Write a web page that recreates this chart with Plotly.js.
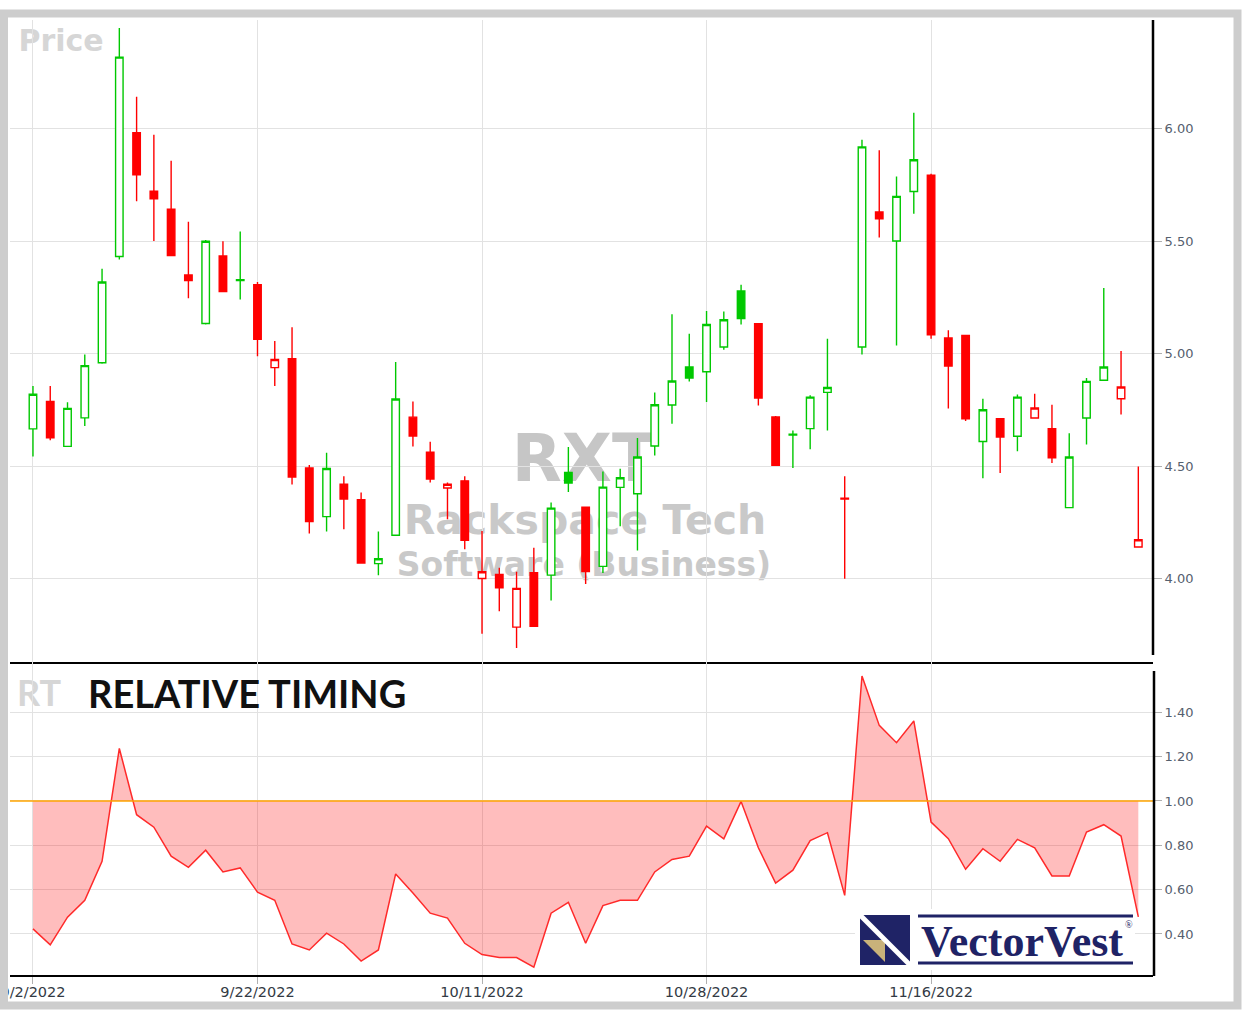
<!DOCTYPE html>
<html>
<head>
<meta charset="utf-8">
<script src="https://cdn.plot.ly/plotly-3.0.1.min.js"></script>
<style>html,body{margin:0;padding:0;background:#fff;}#chart{width:1245px;height:1017px;}</style>
</head>
<body>
<div id="chart"></div>
<script>
// ---- data ----
const dates = ["9/2/2022","9/6/2022","9/7/2022","9/8/2022","9/9/2022","9/12/2022","9/13/2022","9/14/2022","9/15/2022","9/16/2022",
"9/19/2022","9/20/2022","9/21/2022","9/22/2022","9/23/2022","9/26/2022","9/27/2022","9/28/2022","9/29/2022","9/30/2022",
"10/3/2022","10/4/2022","10/5/2022","10/6/2022","10/7/2022","10/10/2022","10/11/2022","10/12/2022","10/13/2022","10/14/2022",
"10/17/2022","10/18/2022","10/19/2022","10/20/2022","10/21/2022","10/24/2022","10/25/2022","10/26/2022","10/27/2022","10/28/2022",
"10/31/2022","11/1/2022","11/2/2022","11/3/2022","11/4/2022","11/7/2022","11/8/2022","11/9/2022","11/10/2022","11/11/2022",
"11/14/2022","11/15/2022","11/16/2022","11/17/2022","11/18/2022","11/21/2022","11/22/2022","11/23/2022","11/25/2022","11/28/2022",
"11/29/2022","11/30/2022","12/1/2022","12/2/2022","12/5/2022"];
const openP = [4.666,4.788,4.588,4.715,4.960,5.432,5.982,5.722,5.642,5.350,
5.134,5.434,5.325,5.307,4.938,4.978,4.492,4.276,4.420,4.351,
4.067,4.193,4.718,4.562,4.403,4.435,4.001,4.019,3.785,4.027,
4.016,4.472,4.318,4.055,4.406,4.378,4.590,4.772,4.941,4.920,
5.030,5.279,5.133,4.719,4.638,4.667,4.828,4.358,5.030,5.630,
5.501,5.721,5.793,5.070,5.081,4.610,4.711,4.633,4.714,4.667,
4.316,4.714,4.882,4.800,4.141];
const highP = [4.857,4.857,4.784,4.996,5.378,6.448,6.142,5.973,5.858,5.586,
5.505,5.500,5.543,5.319,5.056,5.118,4.505,4.560,4.455,4.383,
4.210,4.963,4.788,4.609,4.428,4.455,4.212,4.049,4.031,4.138,
4.339,4.585,4.320,4.477,4.489,4.625,4.828,5.175,5.089,5.190,
5.188,5.307,5.136,4.723,4.659,4.815,5.067,4.455,5.951,5.904,
5.788,6.071,5.800,5.104,5.083,4.800,4.713,4.819,4.822,4.773,
4.647,4.892,5.292,5.012,4.499];
const lowP = [4.543,4.615,4.585,4.679,4.955,5.419,5.677,5.501,5.434,5.247,
5.130,5.274,5.241,4.989,4.857,4.419,4.201,4.210,4.220,4.067,
4.016,4.190,4.588,4.428,4.264,4.131,3.756,3.856,3.692,3.787,
3.903,4.385,3.977,4.025,4.233,4.126,4.548,4.689,4.877,4.785,
5.018,5.130,4.770,4.502,4.492,4.575,4.659,4.000,4.997,5.516,
5.037,5.622,5.067,4.756,4.701,4.447,4.470,4.567,4.712,4.514,
4.314,4.596,4.880,4.730,4.139];
const closeP = [4.820,4.626,4.757,4.947,5.319,6.318,5.795,5.688,5.436,5.325,
5.500,5.276,5.329,5.064,4.974,4.452,4.254,4.490,4.354,4.070,
4.089,4.799,4.634,4.443,4.420,4.171,4.031,3.960,3.957,3.789,
4.314,4.425,4.032,4.407,4.449,4.541,4.773,4.879,4.892,5.130,
5.151,5.156,4.803,4.504,4.642,4.807,4.850,4.354,5.919,5.600,
5.699,5.862,5.084,4.945,4.711,4.751,4.630,4.807,4.759,4.538,
4.541,4.877,4.941,4.852,4.173];
const relTiming = [0.423,0.351,0.476,0.552,0.728,1.237,0.938,0.882,0.751,0.701,
0.778,0.680,0.698,0.589,0.552,0.355,0.328,0.404,0.355,0.278,
0.328,0.671,0.585,0.494,0.472,0.358,0.307,0.294,0.294,0.250,
0.494,0.543,0.358,0.528,0.552,0.552,0.680,0.736,0.751,0.887,
0.829,0.998,0.789,0.630,0.688,0.821,0.857,0.574,1.564,1.341,
1.263,1.361,0.905,0.830,0.692,0.785,0.728,0.827,0.789,0.662,
0.662,0.860,0.893,0.842,0.477];
const rtBaseline = 1.0;
const tickIdx = [0,13,26,39,52];
const priceTicks = [4.00,4.50,5.00,5.50,6.00];
const rtTicks = [0.40,0.60,0.80,1.00,1.20,1.40];

// ---- helpers ----
const W = 1245, H = 1017;
const px = x => x / W;
const py = y => 1 - y / H;
const GREEN = '#00c800', RED = '#ff0000', GRID = '#e2e2e2', NAVY = '#1f2366';

const idx = dates.map((d, i) => i);
const isUp = i => i === 0 || closeP[i] >= closeP[i - 1];
const upIdx = idx.filter(isUp);
const dnIdx = idx.filter(i => !isUp(i));
const pick = (arr, ids) => ids.map(i => arr[i]);

function candleTrace(ids, color) {
  return {
    type: 'candlestick', xaxis: 'x', yaxis: 'y',
    x: ids, open: pick(openP, ids), high: pick(highP, ids), low: pick(lowP, ids), close: pick(closeP, ids),
    increasing: {line: {color: color, width: 1.4}, fillcolor: '#ffffff'},
    decreasing: {line: {color: color, width: 1.4}, fillcolor: color},
    whiskerwidth: 0, hoverinfo: 'skip', showlegend: false
  };
}

const traces = [
  candleTrace(upIdx, GREEN),
  candleTrace(dnIdx, RED),
  {type: 'scatter', mode: 'lines', xaxis: 'x2', yaxis: 'y2', x: idx, y: idx.map(() => rtBaseline),
   line: {width: 0, color: 'rgba(0,0,0,0)'}, hoverinfo: 'skip', showlegend: false},
  {type: 'scatter', mode: 'lines', xaxis: 'x2', yaxis: 'y2', x: idx, y: relTiming,
   fill: 'tonexty', fillcolor: 'rgba(255,0,0,0.26)', line: {color: '#ff2a2a', width: 1.5},
   hoverinfo: 'skip', showlegend: false}
];

const XR = [-1.33, 64.85];
const X0 = px(10), X1 = px(1153);
const tickFontY = {family: 'DejaVu Sans, Verdana, sans-serif', size: 13, color: '#55606e'};
const tickFontX = {family: 'DejaVu Sans, Verdana, sans-serif', size: 14.5, color: '#333a44'};

function wm(text, cx, cy, w, h, size, color, family) {
  return {type: 'rect', xref: 'paper', yref: 'paper', layer: 'below',
    x0: px(cx - w / 2), x1: px(cx + w / 2), y0: py(cy + h / 2), y1: py(cy - h / 2),
    line: {width: 0}, fillcolor: 'rgba(0,0,0,0)',
    label: {text: text, textposition: 'middle center',
      font: {family: family || 'DejaVu Sans, Verdana, sans-serif', size: size, color: color, weight: 'bold'}}};
}
const P = (x, y) => px(x).toFixed(5) + ',' + py(y).toFixed(5);

const shapes = [
  // watermarks (below traces)
  wm('Price', 61, 38, 100, 36, 30, '#d6d6d6'),
  wm('RXT', 584, 453, 200, 70, 65, '#c6c6c6'),
  wm('Rackspace Tech', 585, 517, 420, 50, 41, '#c9c9c9'),
  wm('Software (Business)', 584, 562, 420, 44, 33, '#c9c9c9'),
  wm('RT', 39, 692, 60, 40, 36, '#d6d6d6', 'Lato, Open Sans, sans-serif'),
  // orange RT = 1.00 line
  {type: 'line', xref: 'paper', yref: 'y2', x0: X0, x1: X1, y0: rtBaseline, y1: rtBaseline,
   line: {color: '#ffa500', width: 1.5}, layer: 'above'},
  // right axis lines
  {type: 'line', xref: 'paper', yref: 'paper', x0: px(1153), x1: px(1153), y0: py(20), y1: py(655),
   line: {color: '#000', width: 2.5}, layer: 'above'},
  {type: 'line', xref: 'paper', yref: 'paper', x0: px(1154), x1: px(1154), y0: py(671), y1: py(976),
   line: {color: '#000', width: 2.5}, layer: 'above'},
  // VectorVest logo
  {type: 'rect', xref: 'paper', yref: 'paper', x0: px(855), x1: px(1135), y0: py(970), y1: py(909),
   fillcolor: '#ffffff', line: {width: 0}, layer: 'above'},
  {type: 'rect', xref: 'paper', yref: 'paper', x0: px(860), x1: px(910), y0: py(965), y1: py(915),
   fillcolor: NAVY, line: {width: 0}, layer: 'above'},
  {type: 'path', xref: 'paper', yref: 'paper', layer: 'above',
   path: 'M' + P(863, 940) + ' L' + P(885, 940) + ' L' + P(885, 962) + ' Z',
   fillcolor: '#c9b27a', line: {width: 0}},
  {type: 'line', xref: 'paper', yref: 'paper', x0: px(860), x1: px(910), y0: py(915), y1: py(965),
   line: {color: '#ffffff', width: 5}, layer: 'above'},
  {type: 'line', xref: 'paper', yref: 'paper', x0: px(918), x1: px(1133), y0: py(916), y1: py(916),
   line: {color: NAVY, width: 3}, layer: 'above'},
  {type: 'line', xref: 'paper', yref: 'paper', x0: px(918), x1: px(1133), y0: py(963), y1: py(963),
   line: {color: NAVY, width: 3}, layer: 'above'},
  // outer grey frame
  {type: 'rect', xref: 'paper', yref: 'paper', x0: px(4), x1: px(1237.5), y0: py(1005.5), y1: py(13.5),
   line: {color: '#cdcdcd', width: 8}, fillcolor: 'rgba(0,0,0,0)', layer: 'above'}
];

const annotations = [
  {xref: 'paper', yref: 'paper', x: px(86), y: py(693), xanchor: 'left', yanchor: 'middle', showarrow: false,
   text: 'RELATIVE TIMING', font: {family: 'Lato, Open Sans, sans-serif', size: 38, color: '#111111', weight: 'bold'}},
  {xref: 'paper', yref: 'paper', x: px(1022), y: py(941), xanchor: 'center', yanchor: 'middle', showarrow: false,
   text: 'VectorVest', font: {family: 'Liberation Serif, Times New Roman, serif', size: 44, color: NAVY, weight: 'bold'}},
  {xref: 'paper', yref: 'paper', x: px(1129), y: py(924), xanchor: 'center', yanchor: 'middle', showarrow: false,
   text: '®', font: {family: 'Liberation Serif, serif', size: 10, color: NAVY}}
];

const layout = {
  width: W, height: H, margin: {l: 0, r: 0, t: 0, b: 0},
  paper_bgcolor: '#ffffff', plot_bgcolor: '#ffffff', showlegend: false,
  boxgap: 0.38,
  xaxis: {domain: [X0, X1], anchor: 'y', range: XR, tickvals: tickIdx, showticklabels: false, ticks: '',
    showgrid: true, gridcolor: GRID, gridwidth: 1, zeroline: false,
    showline: true, linecolor: '#000', linewidth: 2, rangeslider: {visible: false}, fixedrange: true},
  yaxis: {domain: [py(662), py(20)], anchor: 'x', side: 'right', range: [3.63, 6.483],
    tickvals: priceTicks, tickformat: '.2f', ticks: 'outside', ticklen: 8, tickcolor: '#b0b0b0', tickwidth: 1,
    showgrid: true, gridcolor: GRID, zeroline: false, showline: false, tickfont: tickFontY, fixedrange: true},
  xaxis2: {domain: [X0, X1], anchor: 'y2', range: XR, tickvals: tickIdx, ticktext: tickIdx.map(i => dates[i]),
    ticks: 'outside', ticklen: 7, tickcolor: '#b0b0b0', tickwidth: 1, ticklabeloverflow: 'allow',
    ticklabelstandoff: -4,
    showgrid: true, gridcolor: GRID, zeroline: false, showline: true, linecolor: '#000', linewidth: 2,
    tickfont: tickFontX, fixedrange: true},
  yaxis2: {domain: [py(975), py(662)], anchor: 'x2', side: 'right', range: [0.215, 1.627],
    tickvals: rtTicks, tickformat: '.2f', ticks: 'outside', ticklen: 8, tickcolor: '#b0b0b0', tickwidth: 1,
    showgrid: true, gridcolor: GRID, zeroline: false, showline: false, tickfont: tickFontY, fixedrange: true},
  shapes: shapes,
  annotations: annotations
};

Plotly.newPlot('chart', traces, layout, {staticPlot: true, displayModeBar: false});
</script>
</body>
</html>
